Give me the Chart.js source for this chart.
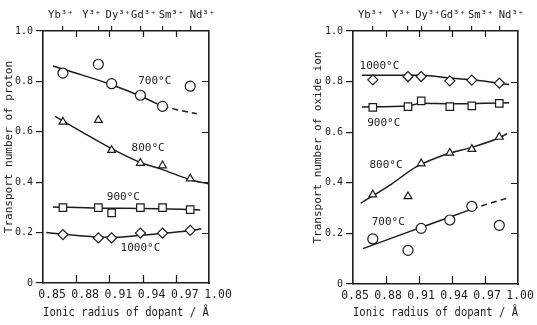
<!DOCTYPE html>
<html><head><meta charset="utf-8">
<script src="https://cdn.jsdelivr.net/npm/chart.js@4.4.0/dist/chart.umd.min.js"></script>
<style>
html,body{margin:0;padding:0;background:#fff;}
#wrap{position:relative;width:537px;height:325px;overflow:hidden;background:#fff;}
#c1{position:absolute;left:0;top:0;}
#c2{position:absolute;left:268px;top:0;}
</style></head><body>
<div id="wrap"><canvas id="c1" width="268" height="325"></canvas><canvas id="c2" width="269" height="325"></canvas></div>
<script>
// ---- axes ----
const xTickValues = [0.85, 0.88, 0.91, 0.94, 0.97, 1.00];
const yTickValues = [0, 0.2, 0.4, 0.6, 0.8, 1.0];
const ionNames = ['Yb³⁺', 'Y³⁺', 'Dy³⁺', 'Gd³⁺', 'Sm³⁺', 'Nd³⁺'];
const ionRadii = [0.868, 0.900, 0.912, 0.938, 0.958, 0.983];
const ionLabelAt = [0.866, 0.894, 0.918, 0.941, 0.966, 0.994];

// ---- proton transport number (left) ----
const proton700 = [0.833, 0.868, 0.791, 0.745, 0.701, 0.781];
const proton800 = [0.639, 0.646, 0.527, 0.476, 0.466, 0.414];
const proton900 = [0.299, 0.299, 0.278, 0.299, 0.299, 0.291];
const proton1000 = [0.192, 0.179, 0.179, 0.198, 0.198, 0.209];
const p700FitX = [0.859, 0.885, 0.912, 0.938, 0.958];
const p700FitY = [0.861, 0.826, 0.787, 0.742, 0.701];
const p700DashX = [0.958, 0.975, 0.989];
const p700DashY = [0.701, 0.684, 0.672];
const p800FitX = [0.861, 0.885, 0.912, 0.938, 0.958, 0.983, 1.0];
const p800FitY = [0.661, 0.600, 0.533, 0.478, 0.450, 0.410, 0.393];
const p900FitX = [0.859, 0.90, 0.94, 0.992];
const p900FitY = [0.302, 0.297, 0.296, 0.290];
const p1000FitX = [0.853, 0.87, 0.90, 0.915, 0.94, 0.96, 0.983, 0.993];
const p1000FitY = [0.200, 0.193, 0.183, 0.182, 0.190, 0.197, 0.208, 0.215];
const protonLabels = ['700°C', '800°C', '900°C', '1000°C'];
const protonLabelX = [0.951, 0.945, 0.9226, 0.938];
const protonLabelY = [0.80, 0.535, 0.341, 0.139];

// ---- oxide ion transport number (right) ----
const oxide1000 = [0.807, 0.820, 0.820, 0.803, 0.806, 0.794];
const oxide900 = [0.698, 0.701, 0.724, 0.701, 0.704, 0.714];
const oxide800 = [0.353, 0.346, 0.476, 0.518, 0.533, 0.581];
const oxide700 = [0.178, 0.133, 0.220, 0.253, 0.307, 0.232];
const o1000FitX = [0.858, 0.912, 0.94, 0.96, 0.992];
const o1000FitY = [0.825, 0.825, 0.813, 0.806, 0.789];
const o900FitX = [0.858, 0.90, 0.912, 0.94, 0.97, 0.992];
const o900FitY = [0.700, 0.704, 0.714, 0.712, 0.714, 0.716];
const o800FitX = [0.857, 0.885, 0.907, 0.936, 0.958, 0.983, 0.990];
const o800FitY = [0.319, 0.395, 0.462, 0.515, 0.540, 0.578, 0.594];
const o700FitX = [0.859, 0.90, 0.93, 0.958];
const o700FitY = [0.140, 0.205, 0.252, 0.296];
const o700DashX = [0.958, 0.975, 0.991];
const o700DashY = [0.296, 0.320, 0.340];
const oxideLabels = ['1000°C', '900°C', '800°C', '700°C'];
const oxideLabelX = [0.874, 0.878, 0.880, 0.882];
const oxideLabelY = [0.86, 0.634, 0.468, 0.244];

const ink = '#1c1c1c';
const FONT = '"DejaVu Sans Mono", monospace';
Chart.defaults.font.family = FONT;
Chart.defaults.color = ink;

function pts(xs, ys, style, r) {
  return { data: xs.map((x, i) => ({ x, y: ys[i] })), pointStyle: style, pointRadius: r,
    pointHoverRadius: r, pointBorderColor: ink, pointBackgroundColor: '#fff', pointBorderWidth: 1.2,
    showLine: false, order: 1 };
}
function fit(xs, ys, dash) {
  return { data: xs.map((x, i) => ({ x, y: ys[i] })), showLine: true, pointRadius: 0, pointHoverRadius: 0,
    borderColor: ink, borderWidth: 1.5, borderDash: dash || [], cubicInterpolationMode: 'monotone',
    fill: false, order: 2 };
}

const frameExtras = {
  id: 'frameExtras',
  afterDraw(chart, args, o) {
    const ctx = chart.ctx, sx = chart.scales.x, sy = chart.scales.y, a = chart.chartArea;
    ctx.save();
    ctx.strokeStyle = ink; ctx.lineWidth = 1.2;
    ctx.beginPath();
    xTickValues.slice(1, -1).forEach(v => {
      const px = Math.round(sx.getPixelForValue(v)) + 0.5;
      ctx.moveTo(px, a.bottom); ctx.lineTo(px, a.bottom - 8);
      ctx.moveTo(px, a.top); ctx.lineTo(px, a.top + 6);
    });
    yTickValues.slice(1, -1).forEach(v => {
      const py = Math.round(sy.getPixelForValue(v)) + 0.5;
      ctx.moveTo(a.right, py); ctx.lineTo(a.right - 7, py);
    });
    ctx.stroke();
    ctx.fillStyle = ink;
    ctx.textAlign = 'center'; ctx.textBaseline = 'middle';
    ctx.font = '10.5px ' + FONT;
    ionNames.forEach((t, i) => ctx.fillText(t, sx.getPixelForValue(ionLabelAt[i]), 15));
    ctx.font = '11px ' + FONT;
    o.texts.forEach((t, i) => ctx.fillText(t, sx.getPixelForValue(o.tx[i]), sy.getPixelForValue(o.ty[i])));
    ctx.restore();
  }
};

function panel(id, p) {
  return new Chart(document.getElementById(id), {
    type: 'scatter',
    data: { datasets: p.datasets },
    options: {
      responsive: false, animation: false, devicePixelRatio: 1,
      layout: { padding: { left: 0, right: p.padRight, top: 0, bottom: 0 } },
      plugins: { legend: { display: false }, tooltip: { enabled: false },
        frameExtras: { texts: p.texts, tx: p.tx, ty: p.ty } },
      scales: {
        x: { type: 'linear', position: 'bottom', min: 0.85, max: 1.0,
          afterBuildTicks: s => { s.ticks = xTickValues.map(v => ({ value: v })); },
          afterFit: s => { s.height = p.bottomHeight; },
          grid: { display: false, drawTicks: false },
          border: { display: true, color: ink, width: 1.6 },
          ticks: { padding: 5, labelOffset: p.labelOffset, maxRotation: 0, autoSkip: false, color: ink,
            font: { size: 11.5 }, callback: v => Number(v).toFixed(2) },
          title: { display: true, text: 'Ionic radius of dopant / Å', color: ink, font: { size: 11.5 },
            padding: { top: 0, bottom: 5 } } },
        xTop: { type: 'linear', position: 'top', min: 0.85, max: 1.0,
          afterBuildTicks: s => { s.ticks = ionRadii.map(v => ({ value: v })); },
          afterFit: s => { s.height = 31; },
          grid: { display: true, drawOnChartArea: false, drawTicks: true, tickLength: 5, color: ink, lineWidth: 1.2 },
          border: { display: true, color: ink, width: 1.6 },
          ticks: { display: false } },
        y: { type: 'linear', position: 'left', min: 0, max: 1,
          afterBuildTicks: s => { s.ticks = yTickValues.map(v => ({ value: v })); },
          afterFit: s => { s.width = p.yAxisWidth; },
          grid: { display: true, drawOnChartArea: false, drawTicks: true, tickLength: 7, color: ink, lineWidth: 1.2 },
          border: { display: true, color: ink, width: 1.6 },
          ticks: { padding: 3, color: ink, font: { size: 10 }, callback: v => v === 0 ? '0' : Number(v).toFixed(1) },
          title: { display: true, text: p.yTitle, color: ink, font: { size: 11 },
            padding: { top: p.yTitlePad, bottom: 0 } } },
        yRight: { type: 'linear', position: 'right', min: 0, max: 1,
          afterFit: s => { s.width = 0; },
          grid: { display: false, drawTicks: false },
          border: { display: true, color: ink, width: 1.6 },
          ticks: { display: false } }
      }
    },
    plugins: [frameExtras]
  });
}

panel('c1', {
  yAxisWidth: 43, padRight: 59, bottomHeight: 42, labelOffset: 9, yTitlePad: 3,
  yTitle: '   Transport number of proton',
  texts: protonLabels, tx: protonLabelX, ty: protonLabelY,
  datasets: [
    pts(ionRadii, proton700, 'circle', 5),
    pts(ionRadii, proton800, 'triangle', 4.5),
    pts(ionRadii, proton900, 'rect', 5.3),
    pts(ionRadii, proton1000, 'rectRot', 5),
    fit(p700FitX, p700FitY),
    fit(p700DashX, p700DashY, [6, 4]),
    fit(p800FitX, p800FitY),
    fit(p900FitX, p900FitY),
    fit(p1000FitX, p1000FitY)
  ]
});

panel('c2', {
  yAxisWidth: 85, padRight: 19, bottomHeight: 41, labelOffset: 2, yTitlePad: 44,
  yTitle: '   Transport number of oxide ion',
  texts: oxideLabels, tx: oxideLabelX, ty: oxideLabelY,
  datasets: [
    pts(ionRadii, oxide700, 'circle', 5),
    pts(ionRadii, oxide800, 'triangle', 4.5),
    pts(ionRadii, oxide900, 'rect', 5.3),
    pts(ionRadii, oxide1000, 'rectRot', 5),
    fit(o1000FitX, o1000FitY),
    fit(o900FitX, o900FitY),
    fit(o800FitX, o800FitY),
    fit(o700FitX, o700FitY),
    fit(o700DashX, o700DashY, [6, 4])
  ]
});
</script>
</body></html>
